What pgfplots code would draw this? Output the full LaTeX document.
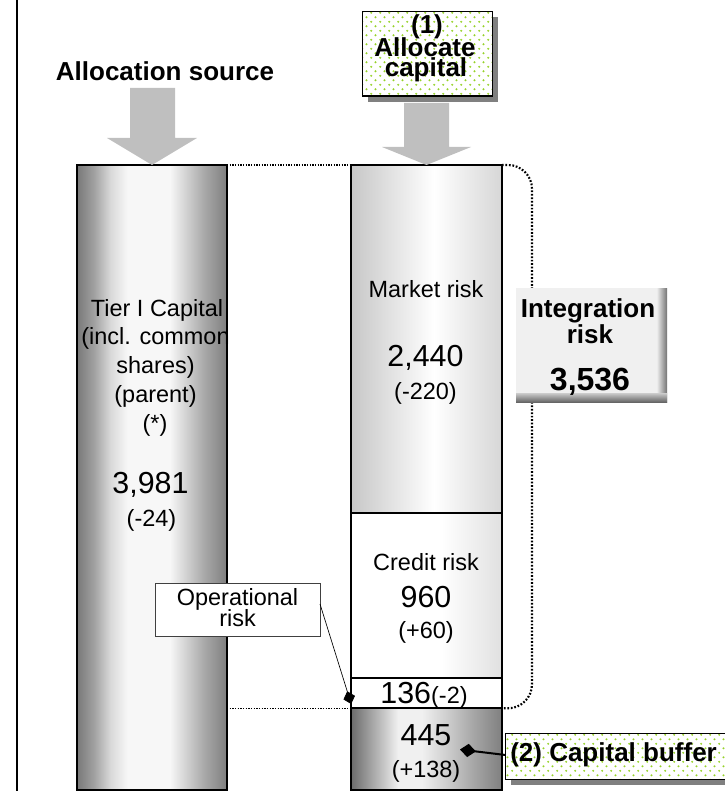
\documentclass[border=0pt]{standalone}
\usepackage{pgfplots}
\pgfplotsset{compat=1.18}
\usepackage{fontspec}
\setmainfont{Liberation Sans}
\usetikzlibrary{patterns,arrows.meta}

\definecolor{arrowgray}{gray}{0.75}
\definecolor{shadowgray}{gray}{0.5}
\definecolor{dotgreen}{RGB}{150,210,40}

\newcommand\fbody{\fontsize{17.6pt}{20pt}\selectfont}
\newcommand\fnum{\fontsize{22.8pt}{25pt}\selectfont}
\newcommand\fhead{\fontsize{19.5pt}{20pt}\selectfont\bfseries}
\newcommand\fbig{\fontsize{24pt}{25pt}\selectfont\bfseries}

\pgfdeclarehorizontalshading{tiershade}{100bp}{color(0bp)=(black!53); color(25bp)=(black!53); color(30.75bp)=(black!37); color(36.25bp)=(black!15); color(42bp)=(black!3); color(56bp)=(black!3); color(61.5bp)=(black!18); color(67.5bp)=(black!34); color(75bp)=(black!50); color(100bp)=(black!50)}
\pgfdeclarehorizontalshading{buffershade}{100bp}{color(0bp)=(black!58); color(25bp)=(black!58); color(29.5bp)=(black!43); color(35bp)=(black!25); color(40.5bp)=(black!6); color(48.5bp)=(black!6); color(56bp)=(black!18); color(65bp)=(black!34); color(75bp)=(black!50); color(100bp)=(black!50)}
\pgfdeclarehorizontalshading{marketshade}{100bp}{color(0bp)=(black!22); color(25bp)=(black!22); color(52.5bp)=(white); color(75bp)=(black!16); color(100bp)=(black!16)}
\pgfdeclarehorizontalshading{creditshade}{100bp}{color(0bp)=(white); color(25bp)=(white); color(55bp)=(white); color(75bp)=(black!12); color(100bp)=(black!12)}

\pgfdeclarepatternformonly{gdots}{\pgfqpoint{0pt}{0pt}}{\pgfqpoint{6.6pt}{7.05pt}}{\pgfqpoint{6.6pt}{7.05pt}}{%
  \pgfpathcircle{\pgfqpoint{1.65pt}{1.76pt}}{0.85pt}%
  \pgfpathcircle{\pgfqpoint{4.95pt}{5.29pt}}{0.85pt}%
  \pgfusepath{fill}}

% bar heights as drawn (units of the 3,981 total)
\pgfplotstableread{
x      v
151.7  3981
}\tiertable

\begin{document}
\begin{tikzpicture}
\pgfplotsset{base/.style={scale only axis, width=543pt, height=593.25pt, hide axis,
  xmin=0, xmax=724, clip=false, at={(0,0)}, anchor=south west}}

% allocation source bar
\begin{axis}[base, ymin=-6.37, ymax=5032, ybar, bar width=150]
\addplot[draw=black, line width=1.4pt, shade, shading=tiershade] table[x=x, y=v] {\tiertable};
\end{axis}

% allocated capital (stacked)
\begin{axis}[base, ymin=-6.37, ymax=5032, ybar stacked, bar width=151]
\addplot[draw=black, line width=1.4pt, shade, shading=buffershade] coordinates {(426.5,520)};
\addplot[draw=black, line width=1.4pt, fill=white] coordinates {(426.5,191)};
\addplot[draw=black, line width=1.4pt, shade, shading=creditshade] coordinates {(426.5,1055)};
\addplot[draw=black, line width=1.4pt, shade, shading=marketshade] coordinates {(426.5,2215)};
\end{axis}

% annotations (pixel grid)
\begin{axis}[base, ymin=0, ymax=791, y dir=reverse]
\draw[line width=1.4pt] (17,0) -- (17,791);

% arrows
\fill[arrowgray] (130,88) -- (175,88) -- (175,138) -- (197,138) -- (152,165) -- (107,138) -- (130,138) -- cycle;
\fill[arrowgray] (404,103) -- (449,103) -- (449,147) -- (471,147) -- (426.5,165) -- (382,147) -- (404,147) -- cycle;

\node[anchor=base, inner sep=0, font=\fhead] at (165,81) {Allocation source};

% box (1)
\fill[shadowgray] (368,17) rectangle (498,102);
\fill[white] (362.7,11.7) rectangle (492.7,96);
\fill[pattern=gdots, pattern color=dotgreen] (362.7,11.7) rectangle (492.7,96);
\draw[line width=0.9pt] (362.7,11.7) rectangle (492.7,96);
\node[anchor=base, inner sep=0, font=\fhead] at (427,34) {(1)};
\node[anchor=base, inner sep=0, font=\fhead] at (425,57) {Allocate};
\node[anchor=base, inner sep=0, font=\fhead] at (426,77) {capital};

% dotted connectors
\draw[line width=1.2pt, dash pattern=on 1pt off 1pt] (227,165) -- (351,165);
\draw[line width=1.2pt, dash pattern=on 1pt off 1pt] (227,708.3) -- (351,708.3);
\draw[line width=1.6pt, dash pattern=on 1.3pt off 1.3pt, rounded corners=18pt] (502,165) -- (532,165) -- (532,708.3) -- (502,708.3);

% integration risk box
\fill[black!50] (516,288) rectangle (667,402);
\shade[left color=black!8, right color=black!55] (657,288) rectangle (667,402);
\shade[top color=black!20, bottom color=black!60] (516,393) rectangle (667,402);
\fill[black!6] (516,288) rectangle (657,393);
\node[anchor=base, inner sep=0, font=\fhead] at (588,317) {Integration};
\node[anchor=base, inner sep=0, font=\fhead] at (590,343) {risk};
\node[anchor=base, inner sep=0, font=\fbig] at (590,390) {3,536};

% texts in allocation source bar
\node[anchor=base, inner sep=0, font=\fbody] at (157,316) {Tier I Capital};
\node[anchor=base, inner sep=0, font=\fbody] at (155.5,344.75) {(incl. common};
\node[anchor=base, inner sep=0, font=\fbody] at (155.5,373.5) {shares)};
\node[anchor=base, inner sep=0, font=\fbody] at (155.5,402.25) {(parent)};
\node[anchor=base, inner sep=0, font=\fbody] at (155,431) {(*)};
\node[anchor=base, inner sep=0, font=\fnum] at (150.5,493) {3,981};
\node[anchor=base, inner sep=0, font=\fbody] at (151.5,526.5) {(-24)};

% texts in allocated bar
\node[anchor=base, inner sep=0, font=\fbody] at (426,297) {Market risk};
\node[anchor=base, inner sep=0, font=\fnum] at (425.5,366) {2,440};
\node[anchor=base, inner sep=0, font=\fbody] at (425.5,399) {(-220)};
\node[anchor=base, inner sep=0, font=\fbody] at (426,570) {Credit risk};
\node[anchor=base, inner sep=0, font=\fnum] at (426,607) {960};
\node[anchor=base, inner sep=0, font=\fbody] at (426,638) {(+60)};
\node[anchor=base, inner sep=0] at (424,703) {{\fnum 136}{\fbody (-2)}};
\node[anchor=base, inner sep=0, font=\fnum] at (426,745.5) {445};
\node[anchor=base, inner sep=0, font=\fbody] at (426,777) {(+138)};

% operational risk callout
\draw[line width=0.6pt, draw=black!75, fill=white] (155.7,583.3) rectangle (320,636.7);
\node[anchor=base, inner sep=0, font=\fbody] at (237.5,605) {Operational};
\node[anchor=base, inner sep=0, font=\fbody] at (237.5,626.7) {risk};
\draw[line width=0.5pt, -{Diamond[length=10pt, width=9pt]}] (320,604) -- (351.2,704);

% capital buffer callout
\fill[shadowgray] (511,739) rectangle (730,785);
\fill[white] (505.7,733.3) rectangle (728,779.3);
\fill[pattern=gdots, pattern color=dotgreen] (505.7,733.3) rectangle (728,779.3);
\draw[line width=0.9pt] (505.7,733.3) rectangle (728,779.3);
\node[anchor=base west, inner sep=0, font=\fhead] at (510,761) {(2) Capital buffer};
\draw[line width=1.5pt, -{Diamond[length=12pt, width=10pt]}] (505.7,755) -- (460,749.5);
\end{axis}

\pgfresetboundingbox
\path (0,0) rectangle (543pt,593.25pt);
\end{tikzpicture}
\end{document}
